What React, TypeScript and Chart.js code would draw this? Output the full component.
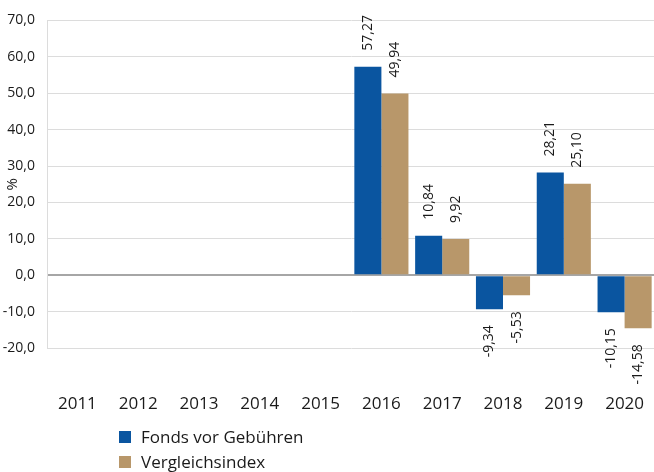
import React, { useEffect, useRef } from "react";
import { Chart, registerables } from "chart.js";

Chart.register(...registerables);

const categories = ["2011", "2012", "2013", "2014", "2015", "2016", "2017", "2018", "2019", "2020"];
const fondsValues: (number | null)[] = [null, null, null, null, null, 57.27, 10.84, -9.34, 28.21, -10.15];
const indexValues: (number | null)[] = [null, null, null, null, null, 49.94, 9.92, -5.53, 25.1, -14.58];
const seriesNames = ["Fonds vor Gebühren", "Vergleichsindex"];
const seriesColors = ["#0a55a0", "#b8976a"];
const yMin = -20;
const yMax = 70;
const yStep = 10;

const FONT = "'Open Sans', 'Noto Sans', sans-serif";

const fmt = (v: number, d: number) => v.toFixed(d).replace(".", ",");

const labelPlugin = {
  id: "barLabels",
  afterDatasetsDraw(chart: any) {
    const ctx = chart.ctx;
    ctx.save();
    ctx.fillStyle = "#1a1a1a";
    ctx.font = `14px ${FONT}`;
    ctx.textBaseline = "middle";
    chart.data.datasets.forEach((ds: any, di: number) => {
      const meta = chart.getDatasetMeta(di);
      meta.data.forEach((el: any, i: number) => {
        const v = ds.data[i];
        if (v === null || v === undefined) return;
        const gap = 16;
        ctx.save();
        if (v >= 0) {
          ctx.translate(el.x, el.y - gap);
          ctx.rotate(-Math.PI / 2);
          ctx.textAlign = "left";
        } else {
          ctx.translate(el.x, el.y + gap);
          ctx.rotate(-Math.PI / 2);
          ctx.textAlign = "right";
        }
        ctx.fillText(fmt(v, 2), 0, 0);
        ctx.restore();
      });
    });
    ctx.restore();
  },
};

export default function App() {
  const ref = useRef<HTMLCanvasElement | null>(null);

  useEffect(() => {
    document.body.style.margin = "0";
    const chart = new Chart(ref.current!, {
      type: "bar",
      data: {
        labels: categories,
        datasets: [
          { label: seriesNames[0], data: fondsValues, backgroundColor: seriesColors[0] },
          { label: seriesNames[1], data: indexValues, backgroundColor: seriesColors[1] },
        ],
      },
      options: {
        animation: false,
        responsive: false,
        layout: { padding: { top: 18, right: 1, left: 0, bottom: 0 } },
        datasets: { bar: { barPercentage: 1, categoryPercentage: 0.89 } },
        plugins: { legend: { display: false }, tooltip: { enabled: false } },
        scales: {
          x: {
            afterFit: (s: any) => {
              s.height = 124;
              s.paddingLeft = 0;
              s.paddingRight = 0;
            },
            grid: { display: false, drawTicks: false },
            border: { display: false },
            ticks: { color: "#1a1a1a", font: { size: 17, family: FONT }, padding: 46, maxRotation: 0 },
          },
          y: {
            min: yMin,
            max: yMax,
            afterFit: (s: any) => {
              s.width = 47;
            },
            ticks: {
              stepSize: yStep,
              color: "#1a1a1a",
              font: { size: 14, family: FONT },
              padding: 12,
              callback: (v: any) => fmt(Number(v), 1),
            },
            grid: {
              drawTicks: false,
              color: (c: any) => (c.tick && c.tick.value === 0 ? "#a6a6a6" : "#dcdcdc"),
              lineWidth: (c: any) => (c.tick && c.tick.value === 0 ? 2 : 1),
            },
            border: { display: true, color: "#dcdcdc" },
            title: { display: true, text: "%", color: "#1a1a1a", font: { size: 15, family: FONT }, padding: { top: 4, bottom: 0 } },
          },
        },
      },
      plugins: [labelPlugin],
    });
    return () => chart.destroy();
  }, []);

  return (
    <div style={{ position: "relative", width: 654, height: 472, overflow: "hidden" }}>
      <canvas ref={ref} width={656} height={472} style={{ position: "absolute", left: 0, top: 0 }} />
      <div style={{ position: "absolute", left: 119, top: 424, fontFamily: FONT, fontSize: 17, color: "#1a1a1a" }}>
        {seriesNames.map((n, i) => (
          <div key={n} style={{ display: "flex", alignItems: "center", height: 25 }}>
            <span style={{ display: "inline-block", width: 12, height: 12, background: seriesColors[i], marginRight: 10 }} />
            <span>{n}</span>
          </div>
        ))}
      </div>
    </div>
  );
}
